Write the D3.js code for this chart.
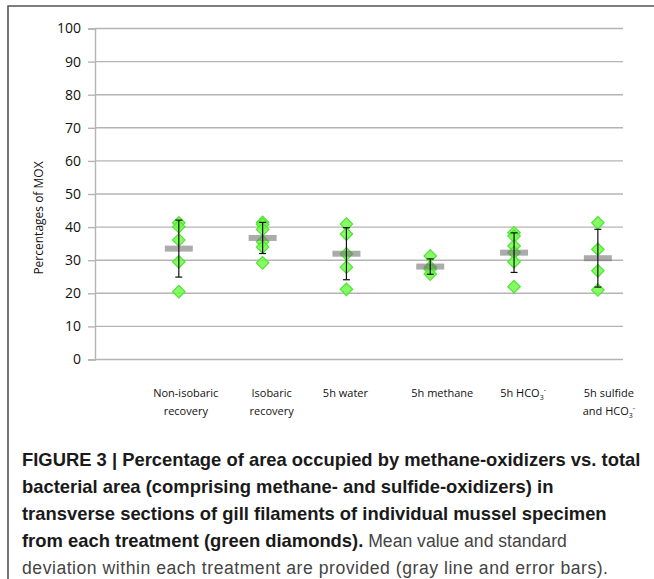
<!DOCTYPE html>
<html>
<head>
<meta charset="utf-8">
<script src="https://cdn.jsdelivr.net/npm/d3@7"></script>
<style>
  html, body { margin: 0; padding: 0; background: #fff; }
  svg { display: block; }
</style>
</head>
<body>
<svg id="fig" width="654" height="579"></svg>
<script>
// Treatments in plotting order
const treatments = ["Non-isobaric recovery", "Isobaric recovery", "5h water", "5h methane", "5h HCO3-", "5h sulfide and HCO3-"];

// MOX percentage per individual mussel, one list per treatment
const nonIsobaric = [41.3, 40.1, 36.1, 29.5, 20.5];
const isobaric    = [41.4, 40.8, 39.3, 35.6, 34.0, 29.2];
const water5h     = [40.9, 37.9, 31.9, 27.9, 21.2];
const methane5h   = [31.3, 27.9, 27.3, 25.8];
const hco3_5h     = [38.3, 37.3, 34.3, 32.3, 29.5, 22.0];
const sulfideHco3 = [41.3, 33.3, 26.8, 21.0];

const yTicks = [0, 10, 20, 30, 40, 50, 60, 70, 80, 90, 100];

const samples = [nonIsobaric, isobaric, water5h, methane5h, hco3_5h, sulfideHco3];

// Label offsets from the category position (label text boxes sit slightly right)
const labelShift = [7, 9, -1, 12, 9, 11];

const svg = d3.select("#fig");

// Figure frame (top and left rule)
svg.append("path")
  .attr("d", "M8,579 L8,6 L654,6")
  .attr("fill", "none")
  .attr("stroke", "#555")
  .attr("stroke-width", 1.6);

const x = d3.scaleLinear().domain([0, 6.3]).range([95, 623]);
const y = d3.scaleLinear().domain([0, 100]).range([359.5, 28.5]);

// Gridlines
svg.append("g").selectAll("line").data(yTicks).join("line")
  .attr("x1", x(0)).attr("x2", x(6.3))
  .attr("y1", d => y(d)).attr("y2", d => y(d))
  .attr("stroke", "#b4b4b4").attr("stroke-width", 1.4);

// Y axis
const yAxis = d3.axisLeft(y).tickValues(yTicks).tickSize(7).tickPadding(7);
const gy = svg.append("g").attr("transform", `translate(${x(0)},0)`).call(yAxis);
gy.select(".domain").attr("stroke", "#b4b4b4").attr("stroke-width", 1.4);
gy.selectAll(".tick line").attr("stroke", "#b4b4b4").attr("stroke-width", 1.4);
gy.selectAll(".tick text")
  .attr("fill", "#111")
  .style("font-family", "'Open Sans', sans-serif")
  .style("font-size", "14px");

// Y axis title
svg.append("text")
  .attr("transform", `translate(43,${(y(0) + y(100)) / 2 + 24}) rotate(-90)`)
  .attr("text-anchor", "middle")
  .attr("fill", "#111")
  .style("font-family", "'Open Sans', sans-serif")
  .style("font-size", "12px")
  .text("Percentages of MOX");

// Individual specimens (green diamonds)
const diamond = d3.symbol().type(d3.symbolSquare).size(78);
const pts = samples.flatMap((vals, i) => vals.map(v => ({ i, v })));
svg.append("g").selectAll("path").data(pts).join("path")
  .attr("d", diamond)
  .attr("transform", d => `translate(${x(d.i + 1)},${y(d.v)}) rotate(45)`)
  .attr("fill", "#70fb48")
  .attr("fill-opacity", 0.85)
  .attr("stroke", "#52e238")
  .attr("stroke-width", 1.2);

// Mean (gray bar) and standard deviation (error bars)
const stats = samples.map((vals, i) => ({
  i,
  mean: d3.mean(vals),
  sd: d3.deviation(vals)
}));

svg.append("g").selectAll("rect").data(stats).join("rect")
  .attr("x", d => x(d.i + 1) - 14)
  .attr("y", d => y(d.mean) - 3)
  .attr("width", 28)
  .attr("height", 6)
  .attr("fill", "rgba(115,115,115,0.6)");

const eb = svg.append("g").attr("stroke", "#111").attr("stroke-width", 1.2);
eb.selectAll("line.v").data(stats).join("line").attr("class", "v")
  .attr("x1", d => x(d.i + 1)).attr("x2", d => x(d.i + 1))
  .attr("y1", d => y(d.mean + d.sd)).attr("y2", d => y(d.mean - d.sd));
eb.selectAll("line.t").data(stats).join("line").attr("class", "t")
  .attr("x1", d => x(d.i + 1) - 3.5).attr("x2", d => x(d.i + 1) + 3.5)
  .attr("y1", d => y(d.mean + d.sd)).attr("y2", d => y(d.mean + d.sd));
eb.selectAll("line.b").data(stats).join("line").attr("class", "b")
  .attr("x1", d => x(d.i + 1) - 3.5).attr("x2", d => x(d.i + 1) + 3.5)
  .attr("y1", d => y(d.mean - d.sd)).attr("y2", d => y(d.mean - d.sd));

// Category labels (two lines where needed, HCO3- with sub/superscript)
const labelFont = "'Open Sans', sans-serif";
const lab = svg.append("g")
  .attr("fill", "#111")
  .style("font-family", labelFont)
  .style("font-size", "11px")
  .attr("text-anchor", "middle");

function hco3(t) {
  t.append("tspan").text("HCO");
  t.append("tspan").attr("dy", 3).style("font-size", "7px").text("3");
  t.append("tspan").attr("dy", -8).style("font-size", "7px").text("-");
}

const lineY1 = 397, lineY2 = 415;
treatments.forEach((name, i) => {
  const cx = x(i + 1) + labelShift[i];
  if (i === 0) {
    lab.append("text").attr("x", cx).attr("y", lineY1).text("Non-isobaric");
    lab.append("text").attr("x", cx).attr("y", lineY2).text("recovery");
  } else if (i === 1) {
    lab.append("text").attr("x", cx).attr("y", lineY1).text("Isobaric");
    lab.append("text").attr("x", cx).attr("y", lineY2).text("recovery");
  } else if (i === 2) {
    lab.append("text").attr("x", cx).attr("y", lineY1).text("5h water");
  } else if (i === 3) {
    lab.append("text").attr("x", cx).attr("y", lineY1).text("5h methane");
  } else if (i === 4) {
    const t = lab.append("text").attr("x", cx).attr("y", lineY1).text("5h ");
    hco3(t);
  } else {
    lab.append("text").attr("x", cx).attr("y", lineY1).text("5h sulfide");
    const t = lab.append("text").attr("x", cx).attr("y", lineY2).text("and ");
    hco3(t);
  }
});

// Caption
const cap = svg.append("g")
  .style("font-family", "'Liberation Sans', Arial, sans-serif");
const capLines = [
  [["b", "FIGURE 3 | Percentage of area occupied by methane-oxidizers vs. total"]],
  [["b", "bacterial area (comprising methane- and sulfide-oxidizers) in"]],
  [["b", "transverse sections of gill filaments of individual mussel specimen"]],
  [["b", "from each treatment (green diamonds)."], ["r", " Mean value and standard"]],
  [["r", "deviation within each treatment are provided (gray line and error bars)."]]
];
capLines.forEach((parts, k) => {
  const t = cap.append("text").attr("x", 22).attr("y", 466 + k * 27);
  parts.forEach(([w, s]) => {
    t.append("tspan")
      .attr("font-weight", w === "b" ? "bold" : "normal")
      .attr("fill", w === "b" ? "#1a1a1a" : "#444")
      .style("font-size", w === "b" ? "18.4px" : "17.6px")
      .text(s);
  });
  if (k === 4) t.attr("textLength", 586).attr("lengthAdjust", "spacing");
});
</script>
</body>
</html>
